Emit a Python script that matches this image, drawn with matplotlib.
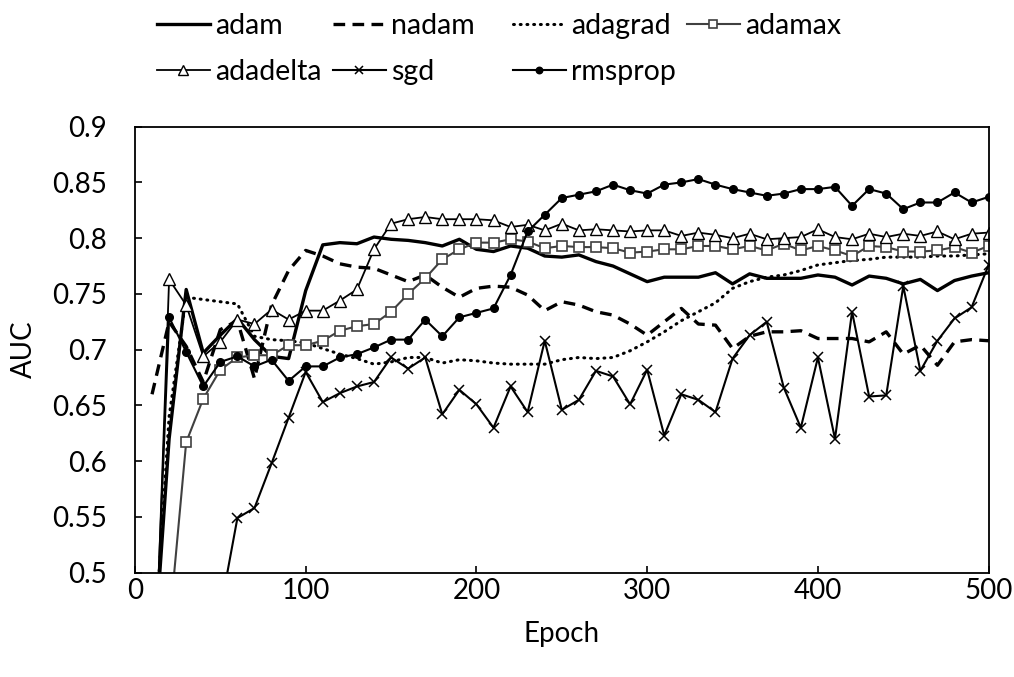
import numpy as np
import matplotlib
matplotlib.use("Agg")
import matplotlib.pyplot as plt

plt.rcParams['font.family'] = ['Lato', 'DejaVu Sans']

epochs = list(range(10, 501, 10))

adam = [0.40, 0.62, 0.754, 0.697, 0.713, 0.728, 0.709, 0.694, 0.692, 0.753,
        0.794, 0.796, 0.795, 0.801, 0.799, 0.798, 0.796, 0.793, 0.799, 0.790,
        0.788, 0.793, 0.791, 0.784, 0.783, 0.785, 0.779, 0.775, 0.768, 0.761,
        0.765, 0.765, 0.765, 0.769, 0.759, 0.768, 0.764, 0.764, 0.764, 0.767,
        0.765, 0.758, 0.766, 0.764, 0.759, 0.763, 0.753, 0.762, 0.766, 0.769]

nadam = [0.660, 0.725, 0.703, 0.671, 0.718, 0.726, 0.674, 0.740, 0.771, 0.789,
         0.784, 0.777, 0.774, 0.773, 0.767, 0.761, 0.767, 0.756, 0.747, 0.755,
         0.757, 0.756, 0.749, 0.735, 0.743, 0.740, 0.734, 0.731, 0.723, 0.713,
         0.725, 0.737, 0.723, 0.722, 0.701, 0.712, 0.716, 0.716, 0.717, 0.710,
         0.710, 0.710, 0.707, 0.716, 0.696, 0.704, 0.686, 0.707, 0.709, 0.708]

adagrad = [0.40, 0.64, 0.747, 0.745, 0.743, 0.741, 0.712, 0.709, 0.708, 0.706,
           0.701, 0.696, 0.692, 0.687, 0.689, 0.693, 0.693, 0.688, 0.691, 0.690,
           0.688, 0.687, 0.687, 0.687, 0.691, 0.693, 0.692, 0.693, 0.699, 0.707,
           0.716, 0.726, 0.734, 0.742, 0.755, 0.761, 0.765, 0.767, 0.771, 0.776,
           0.778, 0.780, 0.781, 0.783, 0.783, 0.783, 0.784, 0.784, 0.785, 0.786]

adamax = [0.40, 0.45, 0.617, 0.656, 0.682, 0.693, 0.695, 0.695, 0.704, 0.704,
          0.708, 0.717, 0.721, 0.723, 0.734, 0.750, 0.764, 0.781, 0.790, 0.796,
          0.796, 0.799, 0.797, 0.791, 0.793, 0.792, 0.792, 0.791, 0.787, 0.788,
          0.790, 0.790, 0.793, 0.793, 0.790, 0.793, 0.789, 0.795, 0.789, 0.793,
          0.789, 0.784, 0.793, 0.792, 0.788, 0.788, 0.789, 0.792, 0.787, 0.793]

adadelta = [0.33, 0.763, 0.740, 0.694, 0.707, 0.727, 0.723, 0.736, 0.727, 0.735,
            0.735, 0.744, 0.754, 0.790, 0.813, 0.817, 0.819, 0.817, 0.817, 0.817,
            0.816, 0.810, 0.812, 0.807, 0.813, 0.807, 0.808, 0.807, 0.806, 0.807,
            0.807, 0.802, 0.805, 0.803, 0.800, 0.804, 0.799, 0.800, 0.801, 0.808,
            0.801, 0.799, 0.804, 0.801, 0.804, 0.802, 0.806, 0.799, 0.804, 0.805]

sgd = [0.41, 0.43, 0.44, 0.45, 0.466, 0.549, 0.558, 0.598, 0.639, 0.680,
       0.653, 0.661, 0.667, 0.671, 0.693, 0.683, 0.693, 0.642, 0.664, 0.651,
       0.630, 0.667, 0.644, 0.708, 0.646, 0.655, 0.681, 0.676, 0.651, 0.682,
       0.623, 0.660, 0.655, 0.644, 0.692, 0.713, 0.725, 0.666, 0.630, 0.693,
       0.620, 0.734, 0.658, 0.659, 0.757, 0.681, 0.708, 0.728, 0.738, 0.776]

rmsprop = [0.35, 0.729, 0.698, 0.667, 0.689, 0.694, 0.685, 0.691, 0.672, 0.685,
           0.685, 0.693, 0.696, 0.702, 0.709, 0.709, 0.727, 0.712, 0.729, 0.733,
           0.737, 0.767, 0.806, 0.821, 0.836, 0.839, 0.842, 0.848, 0.843, 0.840,
           0.848, 0.850, 0.853, 0.848, 0.844, 0.841, 0.838, 0.840, 0.844, 0.844,
           0.846, 0.829, 0.844, 0.840, 0.826, 0.832, 0.832, 0.841, 0.832, 0.837]

x_ticks = [0, 100, 200, 300, 400, 500]
y_ticks = [0.5, 0.55, 0.6, 0.65, 0.7, 0.75, 0.8, 0.85, 0.9]
y_tick_labels = ['0.5', '0.55', '0.6', '0.65', '0.7', '0.75', '0.8', '0.85', '0.9']

W, H = 1014, 677
fig = plt.figure(figsize=(W / 100, H / 100), dpi=100)
ax = fig.add_axes([0.1331, 0.1541, 0.8419, 0.6588])

h_adam, = ax.plot(epochs, adam, color='black', lw=2.4, label='adam')
h_nadam, = ax.plot(epochs, nadam, color='black', lw=2.4, linestyle=(0, (3.5, 2.2)),
                   label='nadam')
h_adagrad, = ax.plot(epochs, adagrad, color='black', lw=2.2, linestyle=(0, (0.3, 1.9)),
                     dash_capstyle='round', label='adagrad')
h_adamax, = ax.plot(epochs, adamax, color='#404040', lw=1.5, marker='s', ms=7,
                    mfc='white', mec='#404040', mew=1.2, label='adamax')
h_adadelta, = ax.plot(epochs, adadelta, color='black', lw=1.3, marker='^', ms=8,
                      mfc='white', mec='black', mew=1.0, label='adadelta')
h_sgd, = ax.plot(epochs, sgd, color='black', lw=1.5, marker='x', ms=7.5,
                 mew=1.1, label='sgd')
h_rms, = ax.plot(epochs, rmsprop, color='black', lw=1.5, marker='o', ms=5.5,
                 mfc='black', label='rmsprop')

ax.set_xlim(0, 500)
ax.set_ylim(0.5, 0.9)
ax.set_xticks(x_ticks)
ax.set_yticks(y_ticks)
ax.set_yticklabels(y_tick_labels)
ax.tick_params(axis='both', direction='in', length=5, width=1.2, labelsize=20,
               top=False, right=False)
ax.tick_params(axis='y', pad=20)
ax.tick_params(axis='x', pad=4)
for s in ax.spines.values():
    s.set_linewidth(1.3)

ax.set_xlabel('Epoch', fontsize=20)
ax.set_ylabel('AUC', fontsize=20)
ax.xaxis.label.set_va('center')
ax.yaxis.label.set_va('center')
ax.xaxis.set_label_coords(0.5, (573.3 - 635) / 446)
ax.yaxis.set_label_coords((24 - 135) / 853.7, 0.5)

# legend entries placed in a 4-column, 2-row grid
entries = [(h_adam, 157, 26), (h_nadam, 333, 26), (h_adagrad, 513, 26),
           (h_adamax, 687, 26), (h_adadelta, 157, 72), (h_sgd, 333, 72),
           (h_rms, 513, 72)]
for h, px, py in entries:
    leg = fig.legend([h], [h.get_label()], loc='center left',
                     bbox_to_anchor=(px / W, 1 - py / H), frameon=False,
                     fontsize=20.5, handlelength=1.85, handletextpad=0.2,
                     borderpad=0, borderaxespad=0, markerscale=0.85)

fig.savefig('out.png', dpi=100)
